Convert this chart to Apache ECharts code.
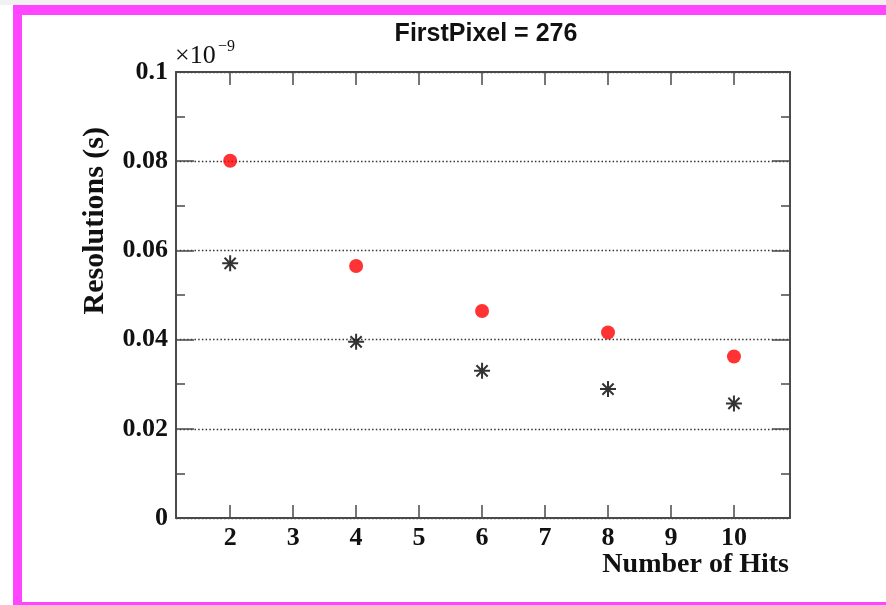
<!DOCTYPE html>
<html>
<head>
<meta charset="utf-8">
<script src="https://cdn.jsdelivr.net/npm/echarts@6/dist/echarts.min.js"></script>
<style>
  html, body { margin: 0; padding: 0; background: #ffffff; }
  #chart { width: 886px; height: 605px; }
</style>
</head>
<body>
<div id="chart"></div>
<script>
// Number of hits used in the fit
const hits = [2, 4, 6, 8, 10];
// Time resolution in units of 1e-9 s
const resolutionRed = [0.0801, 0.0565, 0.0464, 0.0416, 0.0362];
const resolutionBlack = [0.0571, 0.0395, 0.0330, 0.0289, 0.0257];
// Axis tick positions
const xTicks = [2, 3, 4, 5, 6, 7, 8, 9, 10];
const yTicks = [0, 0.02, 0.04, 0.06, 0.08, 0.1];

const titleText = 'FirstPixel = 276';
const yTitle = 'Resolutions (s)';
const xTitle = 'Number of Hits';

const serif = '"Liberation Serif", "Times New Roman", serif';
const sans = '"Liberation Sans", Arial, sans-serif';
const axisColor = '#4a4a4a';
const magenta = '#ff45ff';

const toPairs = (xs, ys) => xs.map((x, i) => [x, ys[i]]);

const chart = echarts.init(document.getElementById('chart'), null, { renderer: 'canvas' });

const yLabelFmt = v => {
  if (Math.abs(v) < 1e-12) return '0';
  return String(parseFloat(v.toFixed(3)));
};

const option = {
  animation: false,
  backgroundColor: '#ffffff',
  title: {
    text: titleText,
    left: 481,
    top: 17,
    textAlign: 'center',
    textStyle: { fontFamily: sans, fontWeight: 'bold', fontSize: 25, color: '#111' }
  },
  grid: { left: 176, right: 96, top: 72, bottom: 87, containLabel: false },
  xAxis: [
    {
      type: 'value', min: 1.14, max: 10.89, position: 'bottom',
      axisLine: { show: true, onZero: false, lineStyle: { color: axisColor, width: 2 } },
      axisTick: { show: true, inside: true, length: 13, customValues: xTicks, lineStyle: { color: axisColor, width: 1.5 } },
      axisLabel: { show: true, customValues: xTicks, margin: 7, fontFamily: serif, fontWeight: 'bold', fontSize: 26, color: '#111' },
      splitLine: { show: false }
    },
    {
      type: 'value', min: 1.14, max: 10.89, position: 'top',
      axisLine: { show: true, onZero: false, lineStyle: { color: axisColor, width: 2 } },
      axisTick: { show: true, inside: true, length: 13, customValues: xTicks, lineStyle: { color: axisColor, width: 1.5 } },
      axisLabel: { show: false },
      splitLine: { show: false }
    }
  ],
  yAxis: [
    {
      type: 'value', min: 0, max: 0.1, interval: 0.02, position: 'left',
      axisLine: { show: true, onZero: false, lineStyle: { color: axisColor, width: 2 } },
      axisTick: { show: true, inside: true, length: 18, lineStyle: { color: axisColor, width: 1.5 } },
      minorTick: { show: true, splitNumber: 2, length: 9, lineStyle: { color: axisColor, width: 1.5 } },
      axisLabel: { show: true, margin: 8, formatter: yLabelFmt, fontFamily: serif, fontWeight: 'bold', fontSize: 26, color: '#111' },
      splitLine: { show: true, lineStyle: { color: '#333', width: 1.4, type: [1.5, 2.2] } }
    },
    {
      type: 'value', min: 0, max: 0.1, interval: 0.02, position: 'right',
      axisLine: { show: true, onZero: false, lineStyle: { color: axisColor, width: 2 } },
      axisTick: { show: true, inside: true, length: 18, lineStyle: { color: axisColor, width: 1.5 } },
      minorTick: { show: true, splitNumber: 2, length: 9, lineStyle: { color: axisColor, width: 1.5 } },
      axisLabel: { show: false },
      splitLine: { show: false }
    }
  ],
  series: [
    {
      name: 'red',
      type: 'scatter',
      xAxisIndex: 0, yAxisIndex: 0,
      data: toPairs(hits, resolutionRed),
      symbol: 'circle',
      symbolSize: 14,
      itemStyle: { color: '#ff0000' },
      emphasis: { disabled: true },
      z: 5
    },
    {
      name: 'black',
      type: 'scatter',
      xAxisIndex: 0, yAxisIndex: 0,
      data: toPairs(hits, resolutionBlack),
      symbol: 'path://M0,10L20,10M10,0L10,20M3,3L17,17M17,3L3,17',
      symbolSize: 16,
      itemStyle: { color: 'rgba(0,0,0,0)', borderColor: '#000', borderWidth: 2 },
      emphasis: { disabled: true },
      z: 5
    }
  ],
  graphic: [
    // page frame
    { type: 'rect', shape: { x: 0, y: 0, width: 886, height: 5 }, style: { fill: '#f1f1f1' }, silent: true },
    { type: 'rect', shape: { x: 13, y: 5, width: 873, height: 10 }, style: { fill: magenta }, silent: true },
    { type: 'rect', shape: { x: 13, y: 5, width: 9, height: 600 }, style: { fill: magenta }, silent: true },
    { type: 'rect', shape: { x: 13, y: 602, width: 873, height: 3 }, style: { fill: magenta }, silent: true },
    // exponent of the y axis
    {
      type: 'text', x: 175, y: 69,
      style: { text: '×10', fontFamily: serif, fontSize: 26, fill: '#111', textAlign: 'left', textVerticalAlign: 'bottom' },
      silent: true
    },
    {
      type: 'text', x: 218, y: 55,
      style: { text: '−9', fontFamily: serif, fontSize: 16, fill: '#111', textAlign: 'left', textVerticalAlign: 'bottom' },
      silent: true
    },
    // axis titles
    {
      type: 'text', x: 95, y: 127, rotation: Math.PI / 2,
      style: { text: yTitle, fontFamily: serif, fontWeight: 'bold', fontSize: 30, fill: '#111', textAlign: 'right', textVerticalAlign: 'middle' },
      silent: true
    },
    {
      type: 'text', x: 789, y: 565,
      style: { text: xTitle, fontFamily: serif, fontWeight: 'bold', fontSize: 28, fill: '#111', textAlign: 'right', textVerticalAlign: 'middle' },
      silent: true
    }
  ]
};

chart.setOption(option);
</script>
</body>
</html>
